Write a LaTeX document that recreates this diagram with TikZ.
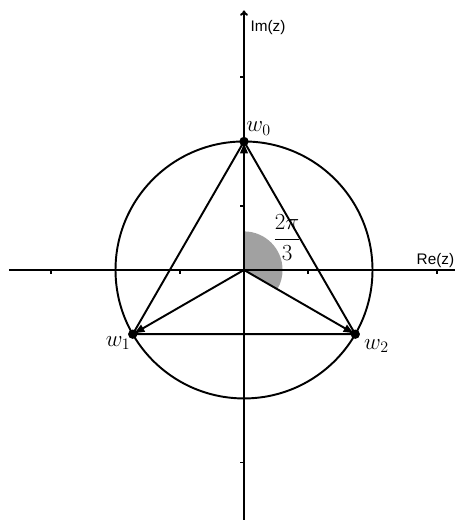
\documentclass[tikz,border=0pt]{standalone}
\usepackage{fontspec}
\newfontfamily\axisfont{Liberation Sans}
\usetikzlibrary{arrows.meta}
\begin{document}
\begin{tikzpicture}[x=96.4pt,y=96.4pt,line width=1.45pt,
    vec/.style={-{Latex[length=9pt,width=6.5pt]}},
    dot/.style={circle,fill,inner sep=0pt,minimum size=7pt},
    axlabel/.style={font=\axisfont\fontsize{11.5}{12}\selectfont}]
    \useasboundingbox (-1.899,-1.946) rectangle (1.642,2.101);
    \coordinate (O) at (0,0);
    \coordinate (xl) at (-1.83,0);
    \coordinate (xr) at (1.642,0);
    \coordinate (yb) at (0,-1.946);
    \coordinate (yt) at (0,2.02);
    \coordinate (w0) at (90:1);
    \coordinate (w1) at (210:1);
    \coordinate (w2) at (-30:1);
    % angle
    \fill[black!37] (O) -- (90:0.3) arc (90:-30:0.3) -- cycle;
    % axes
    \draw (xl) -- (xr);
    \draw[-{To[length=4pt,width=6pt]}] (yb) -- (yt);
    \foreach \t in {-1.5,-0.5,0.5,1.5} {
        \draw[line width=1.2pt] (\t,0) -- ++(0,-3pt);
        \draw[line width=1.2pt] (0,\t) -- ++(-3pt,0);
    }
    \node[axlabel] (im) at (0.187,1.883) {Im(z)};
    \node[axlabel] (re) at (1.49,0.07) {Re(z)};
    \draw (O) circle (1);
    % triangle
    \draw (w0) -- (w1) -- (w2) -- cycle;
    \draw[vec] (O) -- (w0);
    \draw[vec] (O) -- (w1);
    \draw[vec] (O) -- (w2);
    \node[dot] at (w0) {};
    \node[dot] at (w1) {};
    \node[dot] at (w2) {};
    \node[anchor=south west,inner sep=1pt,yshift=3pt,font=\LARGE] (l0) at (w0) {$w_0$};
    \node[anchor=north east,inner sep=1pt,font=\LARGE] (l1) at (w1) {$w_1$};
    \node[anchor=north west,inner sep=1pt,xshift=5pt,yshift=-2pt,font=\LARGE] (l2) at (w2) {$w_2$};
    \node[font=\LARGE] (ang) at (0.335,0.25) {$\displaystyle\frac{2\pi}{3}$};
\end{tikzpicture}
\end{document}
